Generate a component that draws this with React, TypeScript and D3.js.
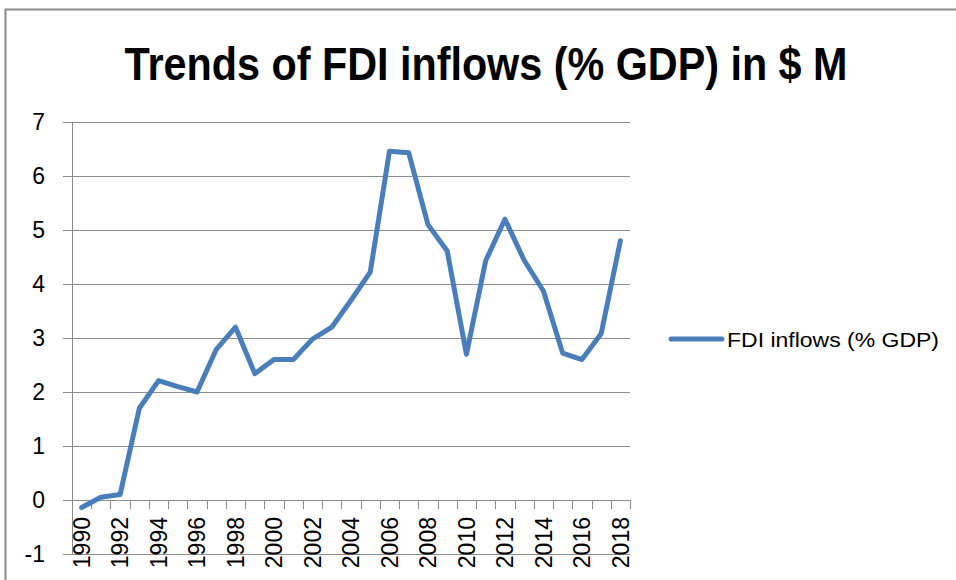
import React from "react";
import * as d3 from "d3";

const years: string[] = [
  "1990","1991","1992","1993","1994","1995","1996","1997","1998","1999",
  "2000","2001","2002","2003","2004","2005","2006","2007","2008","2009",
  "2010","2011","2012","2013","2014","2015","2016","2017","2018",
];
const fdiInflows: number[] = [
  -0.14, 0.05, 0.1, 1.7, 2.21, 2.1, 2.0, 2.79, 3.2, 2.34,
  2.6, 2.6, 2.98, 3.2, 3.7, 4.22, 6.46, 6.43, 5.1, 4.61,
  2.7, 4.43, 5.2, 4.44, 3.87, 2.72, 2.6, 3.08, 4.8,
];
const yTicks: number[] = [-1, 0, 1, 2, 3, 4, 5, 6, 7];
const titleText = "Trends of FDI inflows (% GDP) in $ M";
const seriesName = "FDI inflows (% GDP)";

const W = 956;
const H = 580;
const LINE = "#4A7EBB";
const GRID = "#8C8C8C";
const FONT = "'Liberation Sans', Arial, sans-serif";

export default function App() {
  const left = 72;
  const right = 630;
  const x = d3.scaleBand<string>().domain(years).range([left, right]).padding(0);
  const y = d3.scaleLinear().domain([-1, 7]).range([554, 122]);
  const line = d3
    .line<number>()
    .x((_, i) => (x(years[i]) as number) + x.bandwidth() / 2)
    .y((d) => y(d));
  const boundaries = d3.range(years.length + 1).map((i) => left + i * x.bandwidth());

  return (
    <svg
      width={W}
      height={H}
      style={{ position: "absolute", left: 0, top: 0, background: "#fff" }}
    >
      <rect x={0} y={0} width={W} height={H} fill="#fff" />
      {/* outer chart border */}
      <path d={`M5.5,${H + 5} V9.5 H${W + 5}`} fill="none" stroke="#8A8A8A" strokeWidth={2} />

      {/* title */}
      <text
        x={486}
        y={80}
        textAnchor="middle"
        fontFamily={FONT}
        fontWeight="bold"
        fontSize={46}
        textLength={723}
        lengthAdjust="spacingAndGlyphs"
        fill="#000"
      >
        {titleText}
      </text>

      {/* horizontal gridlines & y ticks */}
      {yTicks.map((t) => (
        <g key={t}>
          <line x1={63} x2={t === 0 ? left : right} y1={Math.round(y(t)) + 0.5} y2={Math.round(y(t)) + 0.5} stroke={GRID} strokeWidth={1} />
          <text
            x={45}
            y={y(t)}
            dy="0.36em"
            textAnchor="end"
            fontFamily={FONT}
            fontSize={23}
            fill="#000"
          >
            {t}
          </text>
        </g>
      ))}

      {/* y axis line */}
      <line x1={left + 0.5} x2={left + 0.5} y1={y(7)} y2={y(-1)} stroke={GRID} strokeWidth={1} />

      {/* x axis at 0 */}
      <line x1={left} x2={right} y1={Math.round(y(0)) + 0.5} y2={Math.round(y(0)) + 0.5} stroke={GRID} strokeWidth={1} />
      {boundaries.map((bx, i) => (
        <line
          key={i}
          x1={Math.round(bx) + 0.5}
          x2={Math.round(bx) + 0.5}
          y1={y(0)}
          y2={y(0) + 9}
          stroke={GRID}
          strokeWidth={1}
        />
      ))}

      {/* x labels every other year */}
      {years.map((yr, i) =>
        i % 2 === 0 ? (
          <text
            key={yr}
            transform={`translate(${(x(yr) as number) + x.bandwidth() / 2},517) rotate(-90)`}
            dy="0.36em"
            textAnchor="end"
            fontFamily={FONT}
            fontSize={23}
            fill="#000"
          >
            {yr}
          </text>
        ) : null
      )}

      {/* series line */}
      <path
        d={line(fdiInflows) || ""}
        fill="none"
        stroke={LINE}
        strokeWidth={5}
        strokeLinejoin="round"
        strokeLinecap="round"
      />

      {/* legend */}
      <line x1={671} x2={722} y1={339} y2={339} stroke={LINE} strokeWidth={5} strokeLinecap="round" />
      <text
        x={727}
        y={339}
        dy="0.36em"
        fontFamily={FONT}
        fontSize={21}
        textLength={212}
        lengthAdjust="spacingAndGlyphs"
        fill="#000"
      >
        {seriesName}
      </text>
    </svg>
  );
}
